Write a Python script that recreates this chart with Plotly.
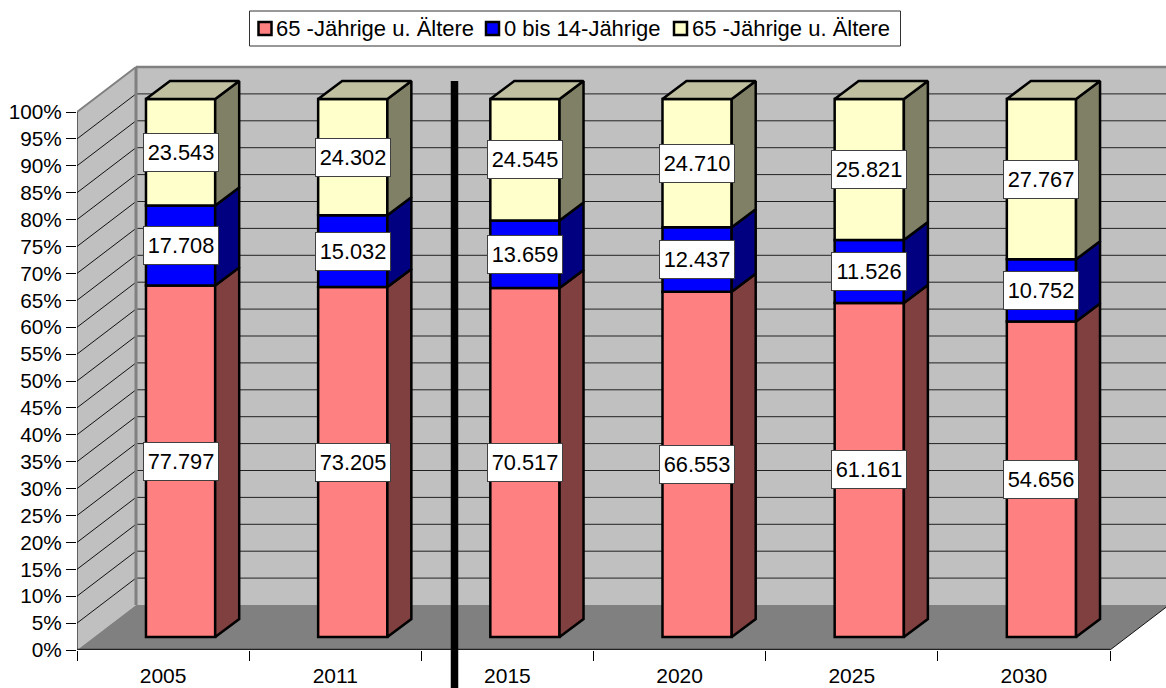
import plotly.graph_objects as go

years = ["2005", "2011", "2015", "2020", "2025", "2030"]
series_names = ["65 -Jährige u. Ältere", "0 bis 14-Jährige", "65 -Jährige u. Ältere"]
working_age = [77797, 73205, 70517, 66553, 61161, 54656]
children = [17708, 15032, 13659, 12437, 11526, 10752]
seniors = [23543, 24302, 24545, 24710, 25821, 27767]
front_colors = ["#FF8080", "#0000FF", "#FFFFCC"]
side_colors = ["#804040", "#000080", "#808066"]
top_color = "#C0C0A0"
percent_ticks = list(range(0, 105, 5))

W, H = 1166, 688
L, T, B = 77, 60, 38
PX_CAT = 172.17
PX_PCT = 5.38
FONT = "Liberation Sans"
FS = 21.8
LEGEND_FS = 22
TICK_FS = 20.8
XTICK_FS = 21


def ux(px):
    return px / PX_CAT


def uy(px):
    return px / PX_PCT


def pap_x(p):
    return (p - L) / (W - L)


def pap_y(p):
    return (H - B - p) / (H - B - T)


WALL_DX, WALL_DY = ux(59), uy(45)
BAR_SHIFT_X, BAR_BASE = ux(17.5), uy(13)
BAR_DX, BAR_DY = ux(24), uy(18)
BAR_W = 0.402
XMAX, YMAX = (W - L) / PX_CAT, (H - B - T) / PX_PCT
N = len(years)

fig = go.Figure()
centers = [i + 0.5 + BAR_SHIFT_X for i in range(N)]
totals = [a + b + c for a, b, c in zip(working_age, children, seniors)]
stack = [working_age, children, seniors]
cum = [0.0] * N
annotations = []
side_traces = []
for s, vals in enumerate(stack):
    shares = [100 * v / t for v, t in zip(vals, totals)]
    bases = [BAR_BASE + c for c in cum]
    fig.add_trace(go.Bar(
        x=centers, y=shares, base=bases, width=BAR_W, name=series_names[s],
        marker=dict(color=front_colors[s], line=dict(color="black", width=2.5)),
        showlegend=False, hoverinfo="skip"))
    xs, ys = [], []
    for i in range(N):
        xr = centers[i] + BAR_W / 2
        b, t = bases[i], bases[i] + shares[i]
        xs += [xr, xr + BAR_DX, xr + BAR_DX, xr, xr, None]
        ys += [b, b + BAR_DY, t + BAR_DY, t, b, None]
        annotations.append(dict(
            x=centers[i], y=(b + t) / 2, xref="x", yref="y", showarrow=False,
            text=f"{vals[i]:,}".replace(",", "."), width=74, height=37,
            bgcolor="white", bordercolor="#404040", borderwidth=1, borderpad=0,
            font=dict(family=FONT, size=FS, color="black")))
    side_traces.append(go.Scatter(
        x=xs, y=ys, mode="lines", fill="toself", fillcolor=side_colors[s],
        line=dict(color="black", width=2.5), showlegend=False, hoverinfo="skip"))
    cum = [c + v for c, v in zip(cum, shares)]

# top faces
xs, ys = [], []
for i in range(N):
    xl, xr = centers[i] - BAR_W / 2, centers[i] + BAR_W / 2
    t = BAR_BASE + cum[i]
    xs += [xl, xl + BAR_DX, xr + BAR_DX, xr, xl, None]
    ys += [t, t + BAR_DY, t + BAR_DY, t, t, None]
for tr in side_traces:
    fig.add_trace(tr)
fig.add_trace(go.Scatter(x=xs, y=ys, mode="lines", fill="toself", fillcolor=top_color,
                         line=dict(color="black", width=2.5), showlegend=False, hoverinfo="skip"))

# axis lines that stop at the front plane
fig.add_trace(go.Scatter(x=[0, 0], y=[0, 100], mode="lines", line=dict(color="black", width=1),
                         cliponaxis=False, showlegend=False, hoverinfo="skip"))
fig.add_trace(go.Scatter(x=[0, N], y=[0, 0], mode="lines", line=dict(color="#222222", width=2.5),
                         cliponaxis=False, showlegend=False, hoverinfo="skip"))

shapes = []


def poly(pts, fill, layer="below"):
    path = "M" + " L".join(f"{x},{y}" for x, y in pts) + " Z"
    shapes.append(dict(type="path", path=path, xref="x", yref="y", fillcolor=fill,
                       line=dict(width=0), layer=layer))


def seg(x0, y0, x1, y1, color, width, layer="below"):
    shapes.append(dict(type="line", x0=x0, y0=y0, x1=x1, y1=y1, xref="x", yref="y",
                       line=dict(color=color, width=width), layer=layer))


poly([(WALL_DX, WALL_DY), (XMAX + 1, WALL_DY), (XMAX + 1, 100 + WALL_DY), (WALL_DX, 100 + WALL_DY)], "#C0C0C0")
poly([(0, 0), (WALL_DX, WALL_DY), (WALL_DX, 100 + WALL_DY), (0, 100)], "#C0C0C0")
poly([(0, 0), (N, 0), (N + WALL_DX, WALL_DY), (WALL_DX, WALL_DY)], "#808080")
for t in percent_ticks[1:-1]:
    seg(0, t, WALL_DX, t + WALL_DY, "#111111", 1)
    seg(WALL_DX, t + WALL_DY, XMAX + 1, t + WALL_DY, "#222222", 1)
seg(0, 100, WALL_DX, 100 + WALL_DY, "#808080", 2)
seg(WALL_DX, 100 + WALL_DY, XMAX + 1, 100 + WALL_DY, "#808080", 2.5)
seg(WALL_DX, WALL_DY, WALL_DX, 100 + WALL_DY, "#808080", 3)
seg(N, 0, N + WALL_DX, WALL_DY, "#111111", 1)

# divider between observed years and projections
shapes.append(dict(type="line", xref="x", yref="paper", x0=ux(454.5 - L), x1=ux(454.5 - L),
                   y0=pap_y(H), y1=pap_y(81), line=dict(color="black", width=7.5), layer="above"))

# legend box
shapes.append(dict(type="rect", xref="paper", yref="paper", x0=pap_x(249.5), x1=pap_x(900.5),
                   y0=pap_y(46), y1=pap_y(11), line=dict(color="#333333", width=1), fillcolor="white"))
swatch_x = [257.5, 485, 673]
for name, sx, col in zip(series_names, swatch_x, front_colors):
    shapes.append(dict(type="rect", xref="paper", yref="paper", x0=pap_x(sx + 1), x1=pap_x(sx + 14),
                       y0=pap_y(35), y1=pap_y(22), fillcolor=col, line=dict(color="black", width=2.5)))
    annotations.append(dict(x=pap_x(sx + 16.5), y=pap_y(28.5), xref="paper", yref="paper", text=name,
                            showarrow=False, xanchor="left", yanchor="middle",
                            font=dict(family=FONT, size=LEGEND_FS, color="black")))

fig.update_layout(
    width=W, height=H, autosize=False, barmode="overlay",
    margin=dict(l=L, r=0, t=T, b=B, pad=0, autoexpand=False),
    paper_bgcolor="white", plot_bgcolor="white",
    font=dict(family=FONT, size=FS, color="black"),
    showlegend=False, shapes=shapes, annotations=annotations,
    xaxis=dict(range=[0, XMAX], automargin=False, tickmode="array", tickvals=[i + 0.5 for i in range(N)],
               ticktext=years, ticks="", showgrid=False, zeroline=False, showline=False,
               ticklabelstandoff=11, tickfont=dict(family=FONT, size=XTICK_FS),
               minor=dict(tickmode="array", tickvals=list(range(N + 1)), ticks="outside", ticklen=10,
                          tickwidth=1, tickcolor="black", showgrid=False)),
    yaxis=dict(range=[0, YMAX], automargin=False, tickmode="array", tickvals=percent_ticks,
               ticktext=[f"{t}%" for t in percent_ticks], ticks="outside", ticklen=10, tickwidth=1,
               tickcolor="black", showgrid=False, zeroline=False, showline=False,
               tickfont=dict(family=FONT, size=TICK_FS)),
)

fig.write_html("out.html", config=dict(displayModeBar=False),
               post_script="document.body.style.margin='0';document.body.style.overflow='hidden';")
